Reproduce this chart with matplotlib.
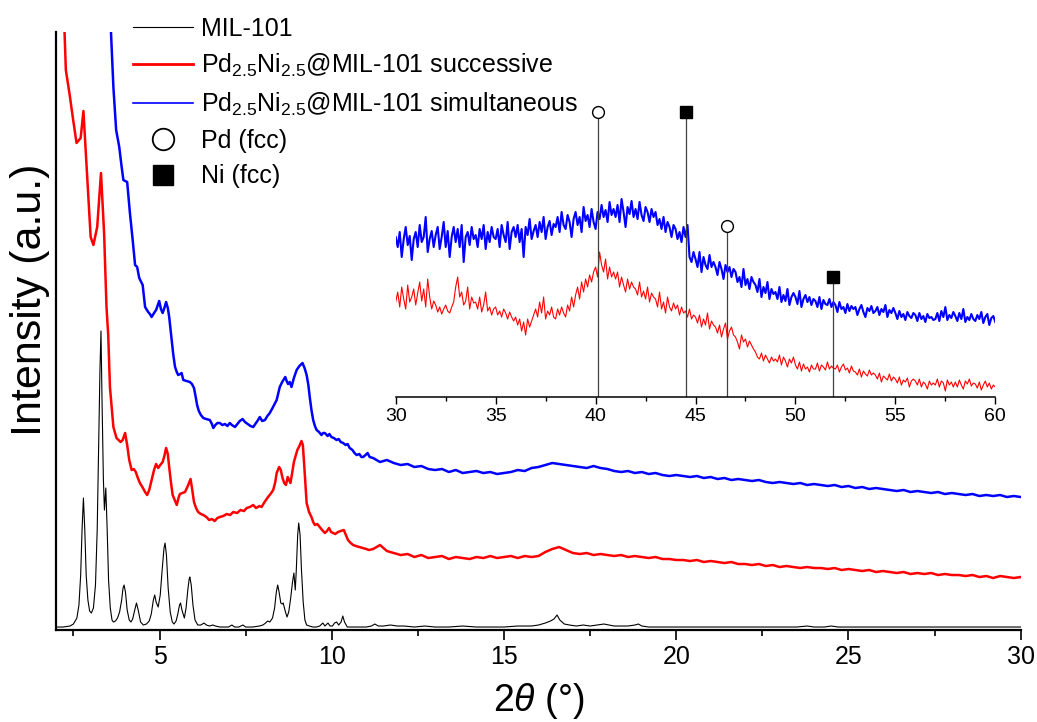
import numpy as np
import matplotlib.pyplot as plt
from matplotlib.lines import Line2D
from matplotlib.ticker import MultipleLocator

plt.rcParams['font.family'] = ['Liberation Sans', 'DejaVu Sans']
plt.rcParams['mathtext.fontset'] = 'custom'
plt.rcParams['mathtext.rm'] = 'Liberation Sans'
plt.rcParams['mathtext.it'] = 'Liberation Sans:italic'
plt.rcParams['mathtext.default'] = 'regular'

# ---- main pattern (2theta 2-30), intensity in arbitrary units ----
mil_x = [2.00, 2.20, 2.40, 2.50, 2.60, 2.66, 2.71, 2.75, 2.79, 2.83, 2.87, 2.92, 2.97, 3.02, 3.08,
         3.14, 3.19, 3.23, 3.27, 3.30, 3.33, 3.37, 3.40, 3.44, 3.48, 3.52, 3.57, 3.62, 3.66, 3.72,
         3.78, 3.84, 3.90, 3.94, 3.97, 4.01, 4.06, 4.12, 4.17, 4.22, 4.28, 4.33, 4.38, 4.45, 4.53,
         4.62, 4.70, 4.76, 4.82, 4.86, 4.90, 4.96, 5.02, 5.08, 5.13, 5.16, 5.20, 5.25, 5.31, 5.37,
         5.42, 5.48, 5.53, 5.58, 5.61, 5.65, 5.72, 5.77, 5.82, 5.86, 5.88, 5.92, 5.97, 6.03, 6.11,
         6.20, 6.29, 6.36, 6.45, 6.55, 6.62, 6.75, 6.90, 7.00, 7.10, 7.18, 7.30, 7.42, 7.50, 7.70,
         7.90, 8.00, 8.08, 8.14, 8.20, 8.28, 8.34, 8.39, 8.43, 8.47, 8.52, 8.56, 8.59, 8.64, 8.70,
         8.75, 8.80, 8.86, 8.90, 8.94, 8.97, 9.01, 9.04, 9.08, 9.12, 9.17, 9.22, 9.27, 9.35, 9.45,
         9.55, 9.65, 9.74, 9.80, 9.89, 9.95, 10.02, 10.08, 10.14, 10.20, 10.27, 10.32, 10.37, 10.45,
         10.60, 10.80, 11.00, 11.15, 11.25, 11.35, 11.50, 11.70, 11.90, 12.10, 12.40, 12.70, 13.00,
         13.40, 13.80, 14.20, 14.60, 15.00, 15.40, 15.80, 16.00, 16.20, 16.35, 16.45, 16.54, 16.62,
         16.75, 16.90, 17.10, 17.30, 17.50, 17.70, 17.90, 18.05, 18.20, 18.40, 18.60, 18.80, 18.90,
         19.00, 19.20, 19.60, 20.00, 20.50, 21.00, 21.50, 22.00, 22.50, 23.00, 23.50, 23.80, 24.00,
         24.30, 24.50, 24.70, 25.00, 25.50, 26.00, 26.50, 27.00, 27.50, 28.00, 28.50, 29.00, 29.50,
         30.00]
mil_y = [3, 3, 4, 6, 12, 25, 55, 100, 132, 100, 55, 30, 19, 17, 22,
         45, 100, 180, 260, 299, 230, 150, 120, 142, 100, 50, 22, 10, 8, 9,
         12, 18, 30, 42, 45, 38, 20, 10, 8, 11, 20, 27, 20, 8, 5,
         6, 9, 16, 30, 35, 28, 23, 35, 62, 82, 87, 75, 42, 18, 8,
         6, 9, 16, 25, 27, 20, 12, 22, 40, 51, 53, 45, 25, 10, 5,
         5, 7, 5, 4, 5, 4, 3, 3, 3, 5, 3, 3, 5, 3, 3,
         4, 5, 7, 9, 8, 12, 22, 38, 45, 38, 27, 26, 27, 20, 13,
         18, 30, 48, 57, 40, 60, 95, 107, 95, 60, 28, 10, 5, 4, 3,
         3, 4, 7, 4, 7, 4, 4, 7, 8, 5, 8, 14, 8, 3,
         3, 3, 3, 4, 6, 4, 4, 5, 4, 4, 3, 4, 3,
         3, 4, 3, 3, 3, 4, 4, 5, 7, 9, 11, 15, 10,
         6, 5, 4, 5, 4, 5, 6, 5, 4, 4, 4, 5, 6,
         4, 3, 3, 3, 3, 3, 3, 3, 3, 3, 3, 4, 3,
         3, 4, 3, 3, 3, 3, 3, 3, 3, 3, 3, 3, 3,
         3]

succ_x_lo = [2.20, 2.28, 2.40, 2.48, 2.59, 2.71, 2.79, 2.90, 3.00, 3.08, 3.19, 3.30, 3.39, 3.46, 3.51,
             3.56, 3.66, 3.75, 3.87, 3.93, 4.00, 4.06, 4.12, 4.19, 4.25, 4.31, 4.37, 4.43, 4.50, 4.58,
             4.64, 4.70, 4.77, 4.84, 4.90, 4.96, 5.02, 5.09, 5.14, 5.19, 5.24, 5.28, 5.33, 5.38, 5.44,
             5.50, 5.55, 5.59, 5.66, 5.74, 5.82, 5.90, 5.95, 6.00, 6.06, 6.12, 6.20, 6.27, 6.36, 6.44,
             6.52, 6.60, 6.68, 6.75, 6.85, 6.95, 7.05, 7.14, 7.25, 7.35, 7.45, 7.53, 7.62, 7.72, 7.80,
             7.90, 7.96, 8.05, 8.15, 8.22, 8.30, 8.36, 8.40, 8.47, 8.52, 8.57, 8.62, 8.67, 8.72, 8.80,
             8.85, 8.90, 8.95, 9.00, 9.06, 9.12, 9.16, 9.19, 9.23, 9.27, 9.34, 9.41, 9.46, 9.51, 9.58,
             9.65, 9.72, 9.80, 9.86, 9.92, 9.98, 10.04, 10.10, 10.18, 10.26, 10.35, 10.41, 10.47, 10.55,
             10.62, 10.70, 10.80, 10.91, 11.00, 11.08]
succ_y_lo = [640, 560, 533, 513, 487, 492, 519, 453, 393, 385, 403, 457, 397, 323, 295,
             243, 203, 192, 188, 190, 197, 185, 170, 160, 161, 158, 152, 147, 143, 138,
             135, 140, 150, 160, 166, 162, 165, 168, 174, 182, 176, 163, 148, 135, 130,
             125, 132, 136, 137, 138, 144, 151, 140, 128, 122, 118, 116, 115, 113, 110,
             111, 109, 112, 113, 114, 116, 115, 118, 117, 120, 119, 122, 123, 125, 122,
             124, 123, 128, 133, 136, 140, 148, 157, 163, 160, 152, 147, 145, 153, 147,
             157, 168, 174, 180, 184, 189, 185, 170, 148, 127, 118, 113, 108, 105, 106,
             103, 100, 97, 99, 102, 98, 97, 96, 98, 99, 100, 95, 90, 87,
             85, 84, 83, 82, 81, 80]

simu_x_lo = [3.50, 3.59, 3.66, 3.74, 3.83, 3.90, 3.95, 4.00, 4.06, 4.14, 4.22, 4.29, 4.35, 4.41, 4.51,
             4.58, 4.67, 4.72, 4.77, 4.84, 4.90, 4.99, 5.04, 5.09, 5.14, 5.19, 5.24, 5.28, 5.32, 5.35,
             5.40, 5.45, 5.50, 5.54, 5.60, 5.64, 5.69, 5.78, 5.88, 5.94, 6.00, 6.05, 6.09, 6.14, 6.20,
             6.27, 6.35, 6.46, 6.52, 6.56, 6.62, 6.68, 6.75, 6.82, 6.90, 6.97, 7.04, 7.10, 7.19, 7.26,
             7.33, 7.41, 7.48, 7.56, 7.64, 7.72, 7.80, 7.86, 7.91, 7.98, 8.06, 8.13, 8.20, 8.28, 8.34,
             8.40, 8.45, 8.49, 8.56, 8.65, 8.69, 8.73, 8.78, 8.83, 8.90, 8.98, 9.06, 9.15, 9.21, 9.27,
             9.32, 9.36, 9.41, 9.46, 9.51, 9.56, 9.63, 9.70, 9.75, 9.80, 9.88, 9.93, 9.99, 10.06, 10.14,
             10.20, 10.26, 10.33, 10.40, 10.46, 10.52, 10.60, 10.66, 10.72, 10.80, 10.86, 10.91, 10.98,
             11.04, 11.10]
simu_y_lo = [650, 598, 543, 500, 483, 463, 450, 449, 448, 417, 390, 365, 363, 352, 345,
             323, 318, 316, 313, 317, 320, 329, 321, 317, 322, 328, 322, 313, 300, 290,
             275, 263, 258, 255, 256, 257, 250, 249, 248, 246, 242, 233, 225, 219, 215,
             212, 211, 210, 206, 202, 205, 207, 207, 205, 206, 204, 207, 205, 203, 206,
             209, 211, 208, 206, 204, 203, 207, 210, 213, 209, 210, 214, 217, 222, 226,
             230, 237, 243, 248, 253, 249, 246, 248, 243, 252, 260, 264, 267, 262, 255,
             245, 233, 220, 210, 204, 200, 198, 195, 197, 197, 194, 196, 193, 192, 190,
             191, 188, 187, 185, 186, 182, 180, 177, 175, 176, 173, 173, 175,
             177, 173]

# 11.2 - 30.0 in 0.2 steps
x_hi = np.linspace(11.2, 30.0, 95)
succ_y_hi = [81, 85, 79, 77, 75, 76, 73, 75, 72, 73, 74, 71, 73, 72, 71, 73, 72, 74, 72, 73,
             74, 72, 74, 73, 74, 78, 81, 83, 80, 77, 76, 77, 75, 76, 75, 74, 75, 73, 74, 73,
             72, 73, 71, 71, 70, 70, 69, 70, 68, 69, 68, 67, 68, 66, 66, 65, 66, 64, 65, 63,
             64, 63, 62, 63, 62, 62, 61, 62, 60, 61, 60, 59, 60, 58, 59, 58, 57, 58, 56, 57,
             56, 57, 55, 56, 55, 55, 54, 55, 53, 54, 52, 54, 53, 52, 53]
simu_y_hi = [172, 168, 170, 167, 165, 166, 163, 164, 161, 160, 161, 158, 160, 157, 158,
             159, 157, 158, 156, 157, 158, 160, 159, 162, 163, 165, 167, 166, 165, 164,
             163, 162, 164, 162, 161, 159, 158, 159, 157, 158, 156, 157, 155, 154, 155,
             154, 153, 154, 152, 153, 151, 152, 150, 151, 150, 149, 150, 148, 147, 148,
             147, 146, 147, 145, 146, 145, 144, 145, 143, 144, 142, 143, 141, 142, 141,
             140, 139, 140, 138, 139, 138, 137, 138, 136, 137, 136, 135, 136, 134, 135,
             134, 135, 133, 134, 133]

succ_x = np.concatenate([succ_x_lo, x_hi])
succ_y = np.concatenate([succ_y_lo, succ_y_hi])
simu_x = np.concatenate([simu_x_lo, x_hi])
simu_y = np.concatenate([simu_y_lo, simu_y_hi])

# ---- inset (2theta 30-60, 0.1 step) ----
ins_x = np.linspace(30, 60, 301)
ins_simu = [160, 150, 165, 140, 158, 170, 152, 161, 137, 158,
            165, 150, 172, 155, 160, 180, 145, 158, 166, 150,
            162, 170, 148, 160, 175, 150, 166, 140, 160, 170,
            155, 168, 150, 172, 135, 160, 165, 152, 170, 158,
            162, 150, 168, 158, 172, 148, 165, 155, 170, 160,
            158, 168, 150, 172, 162, 155, 175, 148, 165, 170,
            160, 172, 155, 168, 140, 170, 162, 178, 158, 166,
            172, 160, 175, 165, 180, 158, 170, 176, 162, 173,
            170, 180, 165, 185, 172, 168, 182, 175, 160, 178,
            185, 172, 180, 165, 190, 176, 182, 170, 188, 175,
            168, 185, 178, 192, 180, 187, 175, 195, 182, 188,
            180, 192, 175, 198, 185, 170, 190, 183, 196, 180,
            188, 178, 195, 182, 176, 190, 185, 175, 188, 180,
            185, 172, 178, 168, 180, 165, 175, 170, 160, 172,
            168, 158, 165, 155, 170, 160, 172, 140, 135, 145,
            138, 130, 145, 125, 140, 132, 128, 142, 130, 135,
            130, 122, 135, 128, 118, 132, 125, 130, 120, 128,
            125, 115, 120, 110, 128, 112, 118, 108, 120, 115,
            112, 105, 118, 100, 110, 104, 115, 98, 108, 103,
            105, 98, 110, 95, 102, 96, 108, 92, 100, 104,
            100, 93, 106, 90, 98, 102, 95, 100, 92, 98,
            96, 90, 100, 88, 97, 93, 92, 98, 90, 95,
            92, 85, 95, 88, 90, 84, 93, 86, 91, 88,
            90, 82, 88, 92, 85, 80, 89, 86, 91, 84,
            86, 90, 82, 88, 85, 92, 80, 87, 84, 89,
            84, 78, 86, 80, 83, 77, 85, 81, 79, 84,
            82, 76, 84, 78, 81, 75, 83, 79, 80, 77,
            78, 84, 76, 86, 80, 90, 77, 82, 79, 85,
            81, 76, 84, 78, 88, 75, 80, 77, 83, 78,
            76, 82, 78, 85, 74, 80, 83, 72, 79, 81,
            75]
ins_succ = [95, 105, 90, 110, 98, 88, 112, 95, 100, 108,
            92, 104, 115, 96, 108, 90, 118, 100, 88, 96,
            92, 85, 90, 83, 88, 92, 86, 84, 90, 95,
            110, 120, 100, 105, 92, 96, 110, 88, 100, 94,
            95, 88, 100, 85, 92, 105, 86, 90, 82, 88,
            90, 82, 86, 80, 88, 84, 78, 85, 80, 76,
            80, 72, 78, 66, 75, 62, 78, 70, 76, 82,
            88, 80, 95, 84, 100, 78, 86, 82, 90, 80,
            78, 88, 82, 90, 84, 80, 92, 86, 100, 90,
            102, 110, 98, 115, 105, 118, 110, 122, 115, 125,
            130, 120, 145, 132, 125, 138, 118, 130, 120, 125,
            118, 125, 110, 120, 112, 105, 118, 108, 115, 110,
            108, 102, 115, 100, 106, 98, 110, 95, 104, 100,
            98, 90, 105, 88, 95, 84, 100, 90, 86, 94,
            88, 92, 82, 90, 84, 86, 80, 88, 78, 82,
            80, 74, 82, 70, 78, 72, 84, 68, 76, 72,
            70, 64, 72, 60, 68, 74, 58, 66, 70, 62,
            60, 55, 48, 62, 55, 58, 50, 56, 52, 48,
            45, 40, 38, 44, 36, 42, 38, 34, 40, 36,
            38, 35, 42, 32, 40, 36, 30, 38, 34, 40,
            32, 28, 35, 26, 33, 28, 30, 25, 32, 28,
            28, 34, 26, 32, 30, 27, 35, 28, 31, 29,
            28, 32, 25, 30, 33, 27, 29, 24, 31, 26,
            25, 22, 28, 20, 26, 23, 21, 27, 22, 24,
            22, 18, 24, 15, 21, 19, 17, 23, 16, 20,
            18, 14, 20, 12, 17, 15, 19, 10, 16, 18,
            16, 12, 18, 10, 15, 13, 8, 16, 12, 14,
            12, 18, 10, 16, 14, 6, 17, 12, 15, 10,
            15, 10, 17, 12, 8, 16, 13, 18, 11, 14,
            13, 9, 15, 7, 12, 16, 10, 14, 8, 12,
            10]

# reference reflections (position, marker height)
pd_pos = [40.1, 46.6]
pd_h = [285, 171]
ni_pos = [44.5, 51.9]
ni_h = [285, 120]

fig = plt.figure(figsize=(10.37, 7.22), dpi=100)
ax = fig.add_axes([0.0542, 0.1274, 0.9301, 0.8283])
ax.plot(mil_x, mil_y, color='black', lw=0.8)
ax.plot(succ_x, succ_y, color='#ff0000', lw=1.8)
ax.plot(simu_x, simu_y, color='#0000ff', lw=1.8)
ax.set_xlim(2, 30)
ax.set_ylim(0, 598)
for s in ['top', 'right']:
    ax.spines[s].set_visible(False)
for s in ['left', 'bottom']:
    ax.spines[s].set_linewidth(1.6)
ax.set_yticks([])
ax.xaxis.set_major_locator(MultipleLocator(5))
ax.xaxis.set_minor_locator(MultipleLocator(2.5))
ax.tick_params(axis='x', which='major', direction='out', length=7, width=1.2, labelsize=18)
ax.tick_params(axis='x', which='minor', direction='out', length=4.5, width=1.2)
ax.set_xlabel(r'2$\it{\theta}$ (°)', fontsize=27, labelpad=9)
ax.set_ylabel('Intensity (a.u.)', fontsize=31)
ax.yaxis.set_label_coords(-0.006, 0.552)

# inset
ins = fig.add_axes([0.3816, 0.4501, 0.5782, 0.4114])
ins.patch.set_alpha(0)
ins.plot(ins_x, ins_succ, color='#ff0000', lw=0.8)
ins.plot(ins_x, ins_simu, color='#0000ff', lw=1.5)
ins.vlines(pd_pos + ni_pos, 0, pd_h + ni_h, color='#404040', lw=0.9)
ins.plot(pd_pos, pd_h, 'o', ms=8.5, mfc='white', mec='black', mew=1, clip_on=False)
ins.plot(ni_pos, ni_h, 's', ms=8, mfc='black', mec='black', clip_on=False)
ins.set_xlim(30, 60)
ins.set_ylim(0, 297)
for s in ['top', 'right', 'left']:
    ins.spines[s].set_visible(False)
ins.spines['bottom'].set_linewidth(1.1)
ins.set_yticks([])
ins.xaxis.set_major_locator(MultipleLocator(5))
ins.xaxis.set_minor_locator(MultipleLocator(2.5))
ins.tick_params(axis='x', which='major', direction='out', length=5, width=1, labelsize=14, pad=3)
ins.tick_params(axis='x', which='minor', direction='out', length=3, width=1)

handles = [
    Line2D([], [], color='black', lw=0.8),
    Line2D([], [], color='#ff0000', lw=2),
    Line2D([], [], color='#0000ff', lw=1.2),
    Line2D([], [], ls='none', marker='o', ms=15.5, mfc='white', mec='black', mew=1.3),
    Line2D([], [], ls='none', marker='s', ms=14.5, mfc='black', mec='black'),
]
labels = ['MIL-101',
          r'Pd$_{2.5}$Ni$_{2.5}$@MIL-101 successive',
          r'Pd$_{2.5}$Ni$_{2.5}$@MIL-101 simultaneous',
          'Pd (fcc)', 'Ni (fcc)']
fig.legend(handles, labels, loc='upper left', bbox_to_anchor=(0.1283, 0.9765),
           frameon=False, fontsize=18, handlelength=2.4, handletextpad=0.3,
           borderpad=0, borderaxespad=0, labelspacing=0.45)

fig.savefig('out.png', dpi=100)
